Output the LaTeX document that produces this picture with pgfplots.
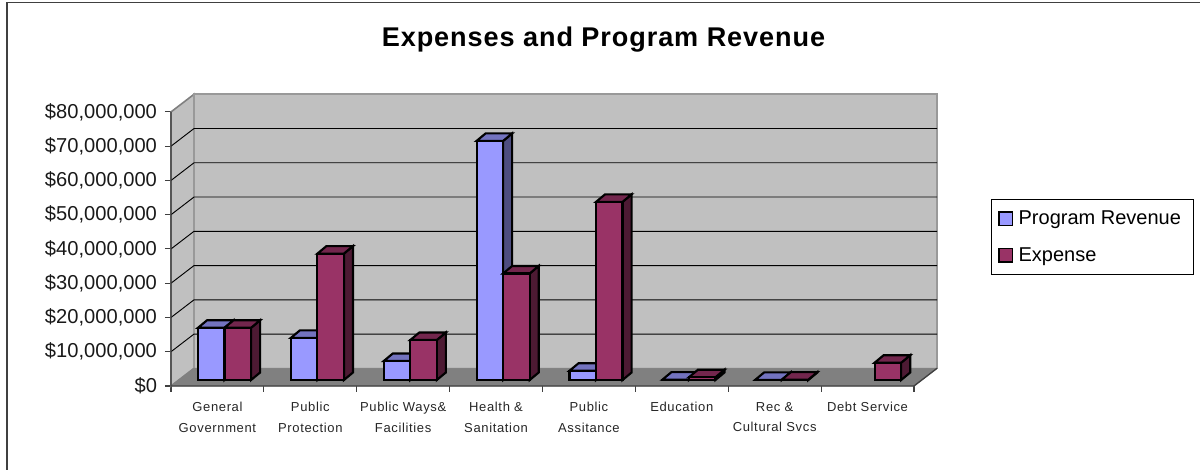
\documentclass[border=0pt]{standalone}
\usepackage{pgfplots}
\pgfplotsset{compat=1.18}
\usepackage{fontspec}
\setmainfont{Liberation Sans}
\newfontfamily\catfont[LetterSpace=5]{Liberation Sans}
\newfontfamily\titlefont[LetterSpace=3.4]{Liberation Sans}
\definecolor{revfront}{HTML}{9999FF}
\definecolor{revtop}{HTML}{7373BF}
\definecolor{revside}{HTML}{4D4D80}
\definecolor{expfront}{HTML}{993366}
\definecolor{exptop}{HTML}{73264D}
\definecolor{expside}{HTML}{4D1A33}
\definecolor{wall}{HTML}{C0C0C0}
\definecolor{floorgray}{HTML}{808080}
\definecolor{axisgray}{HTML}{404040}

% Oblique box: category index, slot (0 or 1), value in $ millions, three face colours.
% Depth of the chart floor is 0.248 categories to the right and 5.16 million upward.
\newcommand{\boxbar}[6]{%
  \pgfmathsetmacro\xa{#1+0.291+#2*0.2856}%
  \pgfmathsetmacro\xb{\xa+0.2856}%
  \pgfmathsetmacro\xc{\xa+0.097}%
  \pgfmathsetmacro\xd{\xb+0.097}%
  \pgfmathsetmacro\ya{1.75}%
  \pgfmathsetmacro\yb{1.75+#3}%
  \pgfmathsetmacro\yc{\ya+2.187}%
  \pgfmathsetmacro\yd{\yb+2.187}%
  \addplot[forget plot,fill=#6,draw=black,line width=1.6pt,line join=miter]
    coordinates {(\xb,\ya) (\xd,\yc) (\xd,\yd) (\xb,\yb)} --cycle;
  \addplot[forget plot,fill=#5,draw=black,line width=1.6pt,line join=miter]
    coordinates {(\xa,\yb) (\xb,\yb) (\xd,\yd) (\xc,\yd)} --cycle;
  \addplot[forget plot,fill=#4,draw=black,line width=1.6pt,line join=miter]
    coordinates {(\xa,\ya) (\xb,\ya) (\xb,\yb) (\xa,\yb)} --cycle;
}
\newcommand{\revbar}[2]{\boxbar{#1}{0}{#2}{revfront}{revtop}{revside}}
\newcommand{\expbar}[2]{\boxbar{#1}{1}{#2}{expfront}{exptop}{expside}}
\newcommand{\gridrow}[2]{%
  \addplot[forget plot,black,line width=0.7pt] coordinates {(0,#1) (0.248,#2) (8.248,#2)};
}

\begin{document}
\begin{tikzpicture}
  % page: 1200 x 470 px at 0.75 pt per px, the origin on the axis corner
  \useasboundingbox (-128.25pt,-63pt) rectangle (771.75pt,289.5pt);
  \draw[axisgray,line width=1.2pt] (-122.8pt,-63pt) -- (-122.8pt,287.7pt) -- (771.75pt,287.7pt);
  \begin{axis}[
    scale only axis,
    width=574.5pt,
    height=218.8pt,
    xmin=0, xmax=8.248,
    ymin=0, ymax=85.16,
    clip=false,
    axis line style={draw=none},
    xtick pos=bottom,
    ytick pos=left,
    tick align=outside,
    major tick length=4.5pt,
    tick style={axisgray,line width=0.8pt},
    ytick={0,10,20,30,40,50,60,70,80},
    yticklabels={{\$0},{\$10,000,000},{\$20,000,000},{\$30,000,000},{\$40,000,000},{\$50,000,000},{\$60,000,000},{\$70,000,000},{\$80,000,000}},
    yticklabel style={font=\fontsize{15.1}{18}\selectfont,color=black!90,xshift=-2.5pt},
    xtick={0,1,2,3,4,5,6,7,8},
    x tick label as interval,
    xticklabels={{General\\Government},{Public\\Protection},{Public Ways\&\\Facilities},{Health \&\\Sanitation},{Public\\Assitance},{Education},{Rec \&\\Cultural Svcs},{Debt Service}},
    xticklabel style={align=center,anchor=north,color=black!85,yshift=-4pt,
      font=\catfont\fontsize{9.75}{15.6}\selectfont},
    title={\titlefont\bfseries Expenses and Program Revenue},
    title style={at={(0.5646,1.135)},anchor=base,inner sep=0pt,
      font=\fontsize{20.3}{24}\selectfont},
    legend style={at={(1.0701,0.64)},anchor=north west,draw=black,line width=0.7pt,
      fill=white,font=\fontsize{15}{18}\selectfont,inner xsep=5.25pt,inner ysep=6.25pt,
      row sep=11.75pt,legend cell align=left},
  ]
    % chart walls and floor
    \addplot[forget plot,fill=wall,draw=floorgray,line width=1.2pt]
      coordinates {(0,0) (0.248,5.16) (0.248,85.16) (0,80)} --cycle;
    \addplot[forget plot,fill=wall,draw=floorgray!80,line width=1.2pt]
      coordinates {(0.248,5.16) (8.248,5.16) (8.248,85.16) (0.248,85.16)} --cycle;
    \addplot[forget plot,fill=floorgray,draw=floorgray,line width=0.6pt]
      coordinates {(0,0) (8,0) (8.248,5.16) (0.248,5.16)} --cycle;
    % gridlines across the side wall and the back wall
    \gridrow{10}{15.16}
    \gridrow{20}{25.16}
    \gridrow{30}{35.16}
    \gridrow{40}{45.16}
    \gridrow{50}{55.16}
    \gridrow{60}{65.16}
    \gridrow{70}{75.16}
    % front edges of the frame
    \addplot[forget plot,axisgray,line width=1pt] coordinates {(0,80) (0,0) (8,0) (8.248,5.16)};

    % values in millions of dollars
    \revbar{0}{15.25} \expbar{0}{15.25}
    \revbar{1}{12.3}  \expbar{1}{36.9}
    \revbar{2}{5.54}  \expbar{2}{11.67}
    \revbar{3}{69.8}  \expbar{3}{31.1}
    \revbar{4}{2.7}   \expbar{4}{52.0}
    \revbar{5}{0.1}   \expbar{5}{0.8}
    \revbar{6}{0.05}  \expbar{6}{0.1}
    \expbar{7}{5.05}

    \addlegendimage{legend image code/.code={\draw[fill=revfront,draw=black,line width=1.1pt] (0pt,-5pt) rectangle (10pt,5pt);}}
    \addlegendentry{\hspace*{2.25pt}Program Revenue\hspace*{2.3pt}}
    \addlegendimage{legend image code/.code={\draw[fill=expfront,draw=black,line width=1.1pt] (0pt,-5pt) rectangle (10pt,5pt);}}
    \addlegendentry{\hspace*{2.25pt}Expense}
  \end{axis}
\end{tikzpicture}
\end{document}
